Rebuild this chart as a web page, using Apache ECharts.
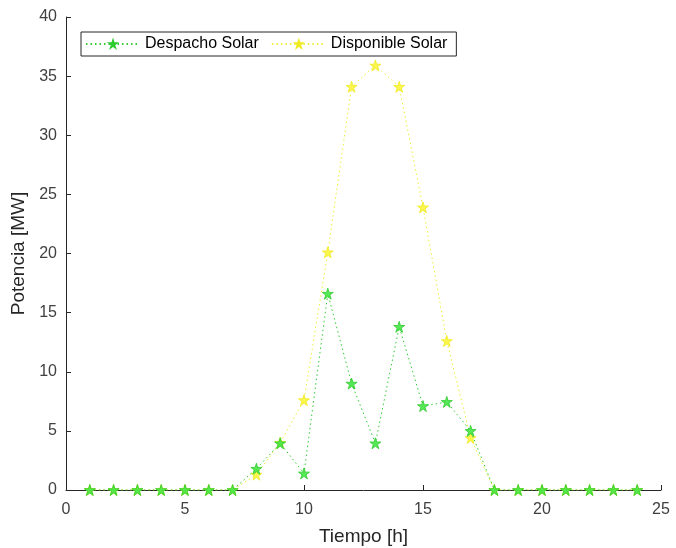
<!DOCTYPE html>
<html>
<head>
<meta charset="utf-8">
<script src="https://cdn.jsdelivr.net/npm/echarts@6/dist/echarts.min.js"></script>
<style>
html,body{margin:0;padding:0;background:#fff;}
#c{width:676px;height:548px;}
</style>
</head>
<body>
<div id="c"></div>
<script>
var hours = [1,2,3,4,5,6,7,8,9,10,11,12,13,14,15,16,17,18,19,20,21,22,23,24];
var despacho = [0,0,0,0,0,0,0,1.8,3.95,1.4,16.6,9.0,3.95,13.8,7.1,7.45,5.0,0,0,0,0,0,0,0];
var disponible = [0,0,0,0,0,0,0,1.3,4.0,7.6,20.1,34.1,35.9,34.1,23.9,12.6,4.4,0,0,0,0,0,0,0];
var seriesNames = ['Despacho Solar','Disponible Solar'];

var star = 'path://M50,0 L61.2,34.5 L97.6,34.5 L68.2,55.9 L79.4,90.5 L50,69.1 L20.6,90.5 L31.8,55.9 L2.4,34.5 L38.8,34.5 Z';
var font = 'Helvetica, "Liberation Sans", Arial, sans-serif';

function pairs(arr){ return hours.map(function(h,i){ return [h, arr[i]]; }); }

var chart = echarts.init(document.getElementById('c'), null, {renderer:'canvas'});
chart.setOption({
  animation:false,
  backgroundColor:'#fff',
  grid:{left:66, right:15, top:17, bottom:58, containLabel:false, outerBoundsMode:'none'},
  legend:{
    left:81, top:32,
    padding:[4,9,4,4],
    itemGap:12,
    itemWidth:54, itemHeight:8,
    borderColor:'#262626', borderWidth:1,
    backgroundColor:'#fff',
    textStyle:{fontFamily:font, fontSize:16, color:'#000'},
    data:seriesNames
  },
  xAxis:{
    type:'value', min:0, max:25, interval:5,
    axisLine:{lineStyle:{color:'#262626', width:1}},
    axisTick:{inside:true, length:5, lineStyle:{color:'#262626'}},
    axisLabel:{fontFamily:font, fontSize:16, color:'#404040', margin:12},
    splitLine:{show:false},
    name:'Tiempo [h]', nameLocation:'middle', nameGap:37,
    nameTextStyle:{fontFamily:font, fontSize:19, color:'#262626'}
  },
  yAxis:{
    type:'value', min:0, max:40, interval:5,
    axisLine:{show:true, lineStyle:{color:'#262626', width:1}},
    axisTick:{show:true, inside:true, length:5, lineStyle:{color:'#262626'}},
    axisLabel:{fontFamily:font, fontSize:16, color:'#404040', margin:9},
    splitLine:{show:false},
    name:'Potencia [MW]', nameLocation:'middle', nameGap:37, nameRotate:90,
    nameTextStyle:{fontFamily:font, fontSize:19, color:'#262626'}
  },
  series:[
    {
      name:seriesNames[0], type:'line', data:pairs(despacho), z:3,
      symbol:star, symbolSize:11, showSymbol:true,
      lineStyle:{color:'#33cc33', width:1, type:[1.5,3]},
      itemStyle:{color:'rgba(70,230,70,0.9)', borderColor:'#2ccc2c', borderWidth:0.8}
    },
    {
      name:seriesNames[1], type:'line', data:pairs(disponible), z:2,
      symbol:star, symbolSize:11, showSymbol:true,
      lineStyle:{color:'#eeee33', width:1, type:[1.5,3]},
      itemStyle:{color:'rgba(250,245,60,0.9)', borderColor:'#f0ea20', borderWidth:0.8}
    }
  ]
});
</script>
</body>
</html>
